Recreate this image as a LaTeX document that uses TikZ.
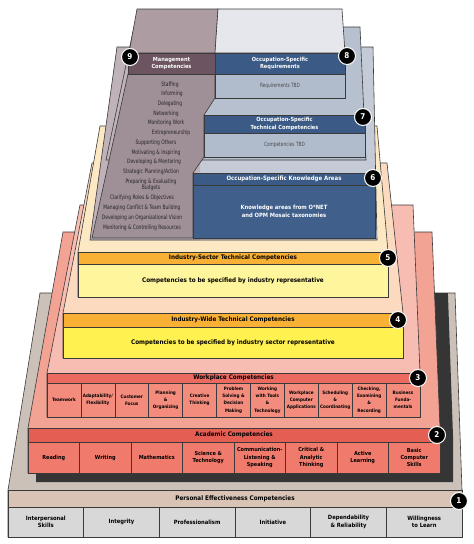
\documentclass[tikz,border=0pt]{standalone}
\usepackage{fontspec}
\setmainfont{DejaVu Sans Condensed}
\newfontfamily\narrowfont[FakeStretch=0.82]{DejaVu Sans Condensed}
\usetikzlibrary{positioning}

\definecolor{peGray}{HTML}{CBC1B8}
\definecolor{peBand}{HTML}{D9C3B5}
\definecolor{peCell}{HTML}{D8D8D8}
\definecolor{acSlab}{HTML}{F3A393}
\definecolor{acBand}{HTML}{E55E54}
\definecolor{acCell}{HTML}{F07A6C}
\definecolor{wpSlab}{HTML}{F8BDB2}
\definecolor{wpBand}{HTML}{EC6A5F}
\definecolor{wpCell}{HTML}{F48C7E}
\definecolor{iwSlab}{HTML}{FBDAC0}
\definecolor{orBand}{HTML}{F8B135}
\definecolor{iwBox}{HTML}{FFF150}
\definecolor{isSlab}{HTML}{FCE8C2}
\definecolor{isBox}{HTML}{FFF59C}
\definecolor{osSlabA}{HTML}{C4CBD7}
\definecolor{osSlabB}{HTML}{B7C0CE}
\definecolor{osTop}{HTML}{E5E7ED}
\definecolor{osBlue}{HTML}{3B5B86}
\definecolor{osBox}{HTML}{40608B}
\definecolor{osLight}{HTML}{B0BBCB}
\definecolor{mgDark}{HTML}{6C5560}
\definecolor{mgBody}{HTML}{9F8F96}
\definecolor{mgLight}{HTML}{BFB2B8}
\definecolor{mgTop}{HTML}{AD9DA3}
\definecolor{shadowGray}{HTML}{353535}
\definecolor{edge}{HTML}{3A3A3A}

\tikzset{
  slab/.style={draw=edge, line width=0.6pt},
  band/.style={draw=edge, line width=0.5pt, inner sep=0pt, outer sep=0pt, align=center},
  headtxt/.style={font=\bfseries\fontsize{6.3}{7}\selectfont},
  pecell/.style={band, fill=peCell, minimum width=75.67pt, minimum height=30pt, font=\bfseries\fontsize{5.8}{7.5}\selectfont},
  accell/.style={band, fill=acCell, minimum width=51.5pt, minimum height=31pt, font=\bfseries\fontsize{5.5}{7.4}\selectfont},
  wpcell/.style={band, fill=wpCell, minimum width=33.91pt, minimum height=34pt, font=\bfseries\fontsize{4.6}{7.2}\selectfont},
  bluehead/.style={band, fill=osBlue, text=white, font=\bfseries\fontsize{5.6}{7.2}\selectfont},
  tbdbox/.style={band, fill=osLight, text=black!70, font=\narrowfont\fontsize{5.8}{7}\selectfont},
  mgtxt/.style={inner sep=0pt, align=center, text=black!85, font=\narrowfont\fontsize{6}{6.6}\selectfont},
  badge/.style={circle, fill=black, draw=white, line width=1pt, text=white, inner sep=0pt, minimum size=17pt, font=\bfseries\fontsize{8}{8}\selectfont}
}

\begin{document}
\begin{tikzpicture}[x=1pt,y=-1pt]
\useasboundingbox (0,0) rectangle (474,544);
\fill[white] (0,0) rectangle (474,544);

% 1 personal effectiveness
\filldraw[slab,fill=peGray] (40,293) -- (455,293) -- (462,490) -- (462,537) -- (8,537) -- (8,490) -- cycle;
\begin{scope}
\clip (40,293) -- (455,293) -- (462,490) -- (8,490) -- cycle;
\fill[shadowGray] (75,240) -- (446,240) -- (453,436) -- (453,482) -- (36,482) -- (36,436) -- cycle;
\end{scope}
\node[band,headtxt,fill=peBand,minimum width=454pt,minimum height=17pt] (peHead) at (235,498.5) {Personal Effectiveness Competencies};
\foreach \lab [count=\i from 0] in {{Interpersonal\\Skills},Integrity,Professionalism,Initiative,{Dependability\\\& Reliability},{Willingness\\to Learn}}
  \node[pecell] (pe\i) at ({8+75.67*(\i+0.5)},522) {\lab};

% 2 academic
\filldraw[slab,fill=acSlab] (63,232) -- (432,232) -- (440,428) -- (440,473) -- (28,473) -- (28,428) -- cycle;
\node[band,headtxt,fill=acBand,minimum width=412pt,minimum height=14pt] (acHead) at (234,435) {Academic Competencies};
\foreach \lab [count=\i from 0] in {Reading,Writing,Mathematics,{Science \&\\Technology},{Communication-\\Listening \&\\Speaking},{Critical \&\\Analytic\\Thinking},{Active\\Learning},{Basic\\Computer\\Skills}}
  \node[accell] (ac\i) at ({28+51.5*(\i+0.5)},457.5) {\lab};

% 3 workplace
\filldraw[slab,fill=wpSlab] (80,205) -- (413,205) -- (420,373) -- (420,417) -- (47,417) -- (47,373) -- cycle;
\node[band,headtxt,fill=wpBand,minimum width=373pt,minimum height=10pt] (wpHead) at (233.5,378) {Workplace Competencies};
\foreach \lab [count=\i from 0] in {Teamwork,{Adaptability/\\Flexibility},{Customer\\Focus},{Planning\\\&\\Organizing},{Creative\\Thinking},{Problem\\Solving \&\\Decision\\Making},{Working\\with Tools\\\&\\Technology},{Workplace\\Computer\\Applications},{Scheduling\\\&\\Coordinating},{Checking,\\Examining\\\&\\Recording},{Business\\Funda-\\mentals}}
  \node[wpcell] (wp\i) at ({47+33.91*(\i+0.5)},400) {\lab};

% 4 industry-wide
\filldraw[slab,fill=iwSlab] (92,163) -- (387,163) -- (403,313) -- (403,358) -- (63,358) -- (63,313) -- cycle;
\node[band,headtxt,fill=orBand,minimum width=340pt,minimum height=14pt] (iwHead) at (233,320) {Industry-Wide Technical Competencies};
\node[band,headtxt,fill=iwBox,minimum width=340pt,minimum height=31pt] (iwBody) at (233,342.5) {Competencies to be specified by industry sector representative};

% 5 industry-sector
\filldraw[slab,fill=isSlab] (100,126) -- (377,126) -- (388,252) -- (388,297) -- (78,297) -- (78,252) -- cycle;
\node[band,headtxt,fill=orBand,minimum width=310pt,minimum height=12pt] (isHead) at (233,258) {Industry-Sector Technical Competencies};
\node[band,headtxt,fill=isBox,minimum width=310pt,minimum height=33pt] (isBody) at (233,280.5) {Competencies to be specified by industry representative};

% 6-8 occupation slabs
\fill[osSlabA] (117,47) -- (373,47) -- (377,240) -- (90,240) -- cycle;
\fill[mgLight] (117,47) -- (200,47) -- (200,240) -- (90,240) -- cycle;
\draw[slab] (117,47) -- (373,47) -- (377,240) -- (90,240) -- cycle;
\fill[osSlabB] (134,27) -- (360,27) -- (366,160) -- (106,160) -- cycle;
\fill[mgLight] (134,27) -- (205,27) -- (205,160) -- (106,160) -- cycle;
\draw[slab] (134,27) -- (360,27) -- (366,160) -- (106,160) -- cycle;
\filldraw[slab,fill=mgTop] (137,9) -- (218,9) -- (215,53) -- (129,53) -- cycle;
\filldraw[slab,fill=osTop] (218,9) -- (342,9) -- (345,53) -- (215,53) -- cycle;

% 9 management column
\filldraw[slab,fill=mgBody] (128,74) -- (215,74) -- (215,98) -- (204,115) -- (204,157) -- (193,173) -- (193,238) -- (92,238) -- cycle;
\node[band,fill=mgDark,text=white,font=\bfseries\fontsize{5.6}{7.2}\selectfont,minimum width=87pt,minimum height=21pt] (mgHead) at (171.5,63.5) {Management\\Competencies};
\foreach \px/\py/\lab [count=\i] in {170/85/Staffing,172/94/Informing,170/104/Delegating,166/114/Networking,166/123/Monitoring Work,171/133/Entrepreneurship,156/143/Supporting Others,156/153/Motivating \& Inspiring,154/162/Developing \& Mentoring,151/172/{Strategic Planning/Action},151/185/{Preparing \& Evaluating\\Budgets},142/198/Clarifying Roles \& Objectives,142/208/Managing Conflict \& Team Building,142/218/Developing an Organizational Vision,142/228/Monitoring \& Controlling Resources}
  \node[mgtxt] (mg\i) at (\px,\py) {\lab};

% occupation boxes
\node[bluehead,minimum width=130pt,minimum height=21pt] (reqHead) at (280,63.5) {Occupation-Specific\\Requirements};
\node[tbdbox,minimum width=130pt,minimum height=24pt] (reqBody) at (280,86) {Requirements TBD};
\node[bluehead,minimum width=161pt,minimum height=18pt] (tcHead) at (284.5,124) {Occupation-Specific\\Technical Competencies};
\node[tbdbox,minimum width=161pt,minimum height=24pt] (tcBody) at (284.5,145) {Competencies TBD};
\node[bluehead,font=\bfseries\fontsize{6}{7}\selectfont,minimum width=182pt,minimum height=12pt] (kaHead) at (284,179) {Occupation-Specific Knowledge Areas};
\node[bluehead,fill=osBox,font=\bfseries\fontsize{5.8}{7.6}\selectfont,minimum width=182pt,minimum height=53pt] (kaBody) at (284,211.5) {Knowledge areas from O*NET\\and OPM Mosaic taxonomies};

% badges
\node[badge] (b1) at (459,501) {1};
\node[badge] (b2) at (437,435) {2};
\node[badge] (b3) at (418,378) {3};
\node[badge] (b4) at (398,320) {4};
\node[badge] (b5) at (388,258) {5};
\node[badge] (b6) at (373,178) {6};
\node[badge] (b7) at (363,117) {7};
\node[badge] (b8) at (347,56) {8};
\node[badge] (b9) at (130,57) {9};
\end{tikzpicture}
\end{document}
